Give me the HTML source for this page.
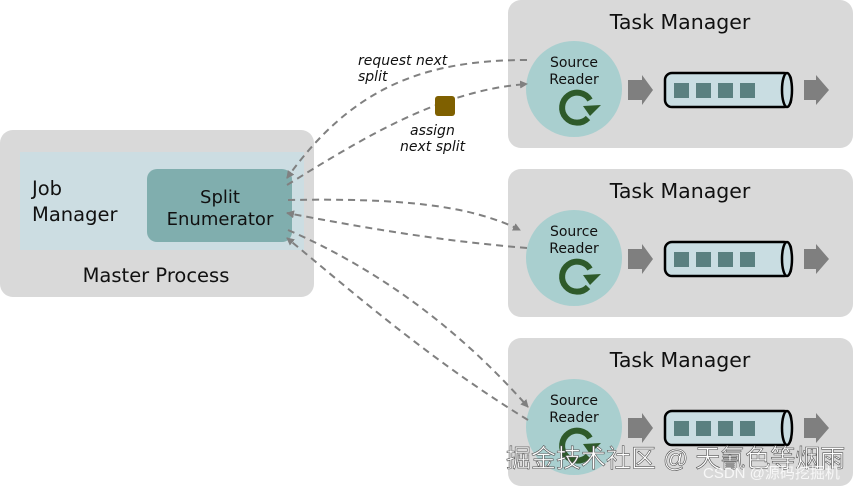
<!DOCTYPE html>
<html><head><meta charset="utf-8"><style>
body{margin:0;background:#fff;}
svg{display:block;font-family:"DejaVu Sans","Liberation Sans",sans-serif;}
</style></head><body>
<svg width="855" height="487" viewBox="0 0 855 487" xmlns="http://www.w3.org/2000/svg">
<defs>
<marker id="ah" markerWidth="8" markerHeight="8" refX="7" refY="4" orient="auto" markerUnits="userSpaceOnUse">
<path d="M0,0 L8,4 L0,8 z" fill="#808080"/></marker>
<g id="tm">
<rect x="508" y="0" width="345" height="148" rx="13" fill="#d9d9d9"/>
<text x="680" y="29" font-size="20.5" text-anchor="middle" fill="#111">Task Manager</text>
<circle cx="574" cy="89" r="48" fill="#a9cfcf"/>
<text x="574" y="67" font-size="14" text-anchor="middle" fill="#111">Source</text>
<text x="574" y="84" font-size="14" text-anchor="middle" fill="#111">Reader</text>
<path d="M590,100 A15,15 0 1 0 588,118" fill="none" stroke="#2e5a2a" stroke-width="6"/>
<path d="M583,106 L601,105 L590,116 z" fill="#2e5a2a"/>
<path d="M628,80 L642,80 L642,75 L653,90 L642,105 L642,100 L628,100 z" fill="#7f7f7f"/>
<rect x="665" y="73" width="126" height="34" rx="7" fill="#c9dde2" stroke="#000" stroke-width="2.5"/>
<ellipse cx="787" cy="90" rx="5" ry="17" fill="#c9dde2" stroke="#000" stroke-width="2.5"/>
<rect x="674" y="83" width="15" height="15" fill="#5a8080"/>
<rect x="696" y="83" width="15" height="15" fill="#5a8080"/>
<rect x="718" y="83" width="15" height="15" fill="#5a8080"/>
<rect x="740" y="83" width="15" height="15" fill="#5a8080"/>
<path d="M804,80 L816,80 L816,75 L829,90 L816,105 L816,100 L804,100 z" fill="#7f7f7f"/>
</g>
</defs>
<use href="#tm"/>
<use href="#tm" y="169"/>
<use href="#tm" y="338"/>
<rect x="0" y="130" width="314" height="167" rx="13" fill="#d9d9d9"/>
<rect x="20" y="152" width="284" height="98" fill="#ccdde2"/>
<rect x="147" y="169" width="145" height="73" rx="10" fill="#80aeae"/>
<text x="32" y="195" font-size="19.5" fill="#111">Job</text>
<text x="32" y="221" font-size="19.5" fill="#111">Manager</text>
<text x="220" y="203" font-size="18" text-anchor="middle" fill="#111">Split</text>
<text x="220" y="225" font-size="18" text-anchor="middle" fill="#111">Enumerator</text>
<text x="156" y="282" font-size="19.5" text-anchor="middle" fill="#111">Master Process</text>
<g fill="none" stroke="#808080" stroke-width="2" stroke-dasharray="7,5">
<path d="M527,60 C420,60 350,90 287,178" marker-end="url(#ah)"/>
<path d="M287,185 C360,140 440,90 527,84" marker-end="url(#ah)"/>
<path d="M288,200 C400,198 470,205 520,230" marker-end="url(#ah)"/>
<path d="M527,248 C430,240 350,225 287,213" marker-end="url(#ah)"/>
<path d="M288,230 C380,270 460,330 528,407" marker-end="url(#ah)"/>
<path d="M528,420 C430,360 350,290 287,238" marker-end="url(#ah)"/>
</g>
<rect x="435" y="96" width="20" height="20" rx="3" fill="#7f6000"/>
<g font-size="14" font-style="italic" fill="#111">
<text x="358" y="65">request next</text>
<text x="358" y="81">split</text>
<text x="410" y="135">assign</text>
<text x="400" y="151">next split</text>
</g>
<text x="506" y="467" font-size="25" fill="#fff" stroke="#555" stroke-width="0.6" font-family="'Liberation Sans','Noto Sans CJK SC',sans-serif">掘金技术社区 @ 天氰色等烟雨</text>
<text x="703" y="478" font-size="15" fill="#fff" font-family="'Liberation Sans','Noto Sans CJK SC',sans-serif" opacity="0.8">CSDN @源码挖掘机</text>
</svg>
</body></html>
